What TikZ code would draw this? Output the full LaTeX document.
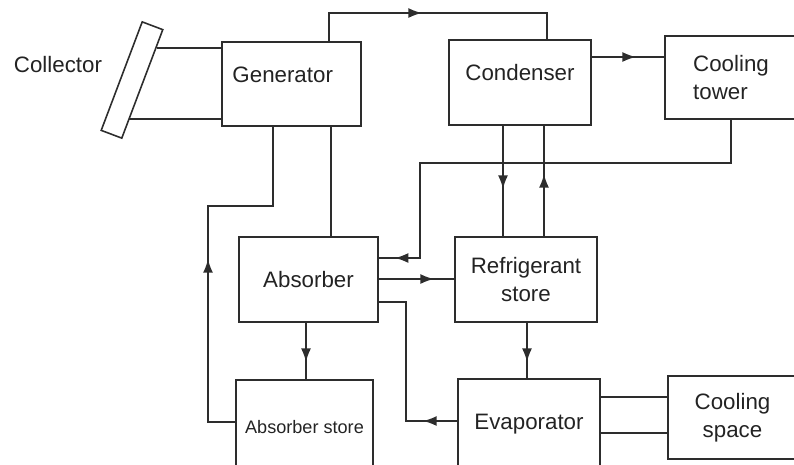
\documentclass[tikz,border=0pt]{standalone}
\usepackage{fontspec}
\setmainfont{Liberation Sans}
\usetikzlibrary{arrows.meta,decorations.markings}

\definecolor{linecolor}{RGB}{45,45,45}
\definecolor{textcolor}{RGB}{35,35,35}

\tikzset{
    unit/.style={draw=linecolor, line width=1pt, text=textcolor, inner sep=2pt,
        font=\fontsize{12.7}{16}\selectfont, align=center},
    pipe/.style={draw=linecolor, line width=0.85pt},
    flowat/.style={postaction={decorate},
        decoration={markings, mark=at position #1 with {\arrow{Latex[length=0.27cm,width=0.2cm]}}}},
}

\begin{document}
\begin{tikzpicture}[x=0.02cm, y=-0.02cm]
    % Canvas
    \useasboundingbox (0,0) rectangle (794,464);
    \clip (0,0) rectangle (794,464);

    % Solar side
    \node[font=\fontsize{12.7}{16}\selectfont, text=textcolor] (collabel) at (58,65) {Collector};
    \node[draw=linecolor, line width=0.9pt, minimum width=2.32cm, minimum height=0.44cm,
        rotate=69.3, inner sep=0pt] (panel) at (132,80) {};
    \coordinate (cin) at (157,48);
    \coordinate (cout) at (129,119);

    % Main units
    \node[unit, minimum width=2.78cm, minimum height=1.68cm, text depth=11pt] (gen) at (291.5,84) {Generator\hspace{10pt}};
    \node[unit, minimum width=2.84cm, minimum height=1.70cm, text depth=12pt] (cond) at (520,82.5) {Condenser};
    \node[unit, minimum width=2.64cm, minimum height=1.66cm, align=left] (tower) at (731,77.5) {Cooling\\tower};
    \node[unit, minimum width=2.78cm, minimum height=1.70cm] (abs) at (308.5,279.5) {Absorber};
    \node[unit, minimum width=2.84cm, minimum height=1.70cm] (ref) at (526,279.5) {Refrigerant\\store};
    \node[unit, minimum width=2.74cm, minimum height=1.90cm, font=\fontsize{10.3}{12}\selectfont] (absstore) at (304.5,427.5) {Absorber store};
    \node[unit, minimum width=2.84cm, minimum height=1.92cm, text depth=6pt] (evap) at (529,427) {Evaporator};
    \node[unit, minimum width=2.58cm, minimum height=1.66cm] (space) at (732.5,417.5) {Cooling\\space};

    % Collector loop
    \draw[pipe] (cin) -- (cin -| gen.west);
    \draw[pipe] (cout) -- (cout -| gen.west);

    % Vapour to condenser
    \draw[pipe, flowat=2.42cm] (gen.north -| 329,0) -- (329,13) -- (547,13) -- (cond.north -| 547,0);

    % Cooling water
    \draw[pipe, flowat=0.88cm] (cond.east |- 0,57) -- (tower.west |- 0,57);
    \draw[pipe, flowat=-0.32cm] (tower.south) -- (731,163) -- (420,163) -- (420,258) -- (abs.east |- 0,258);

    % Refrigerant between condenser and store
    \draw[pipe, flowat=1.26cm] (cond.south -| 503,0) -- (ref.north -| 503,0);
    \draw[pipe, flowat=1.24cm] (ref.north -| 544,0) -- (cond.south -| 544,0);

    % Solution circuit
    \draw[pipe, flowat=3.8cm] (absstore.west |- 0,422) -- (208,422) -- (208,206) -- (273,206) -- (gen.south -| 273,0);
    \draw[pipe] (gen.south -| 331,0) -- (abs.north -| 331,0);
    \draw[pipe, flowat=0.78cm] (abs.south -| 306,0) -- (absstore.north -| 306,0);

    % Absorber, store and evaporator
    \draw[pipe, flowat=1.1cm] (abs.east |- 0,279) -- (ref.west |- 0,279);
    \draw[pipe, flowat=0.78cm] (ref.south -| 527,0) -- (evap.north -| 527,0);
    \draw[pipe, flowat=0.68cm] (evap.west |- 0,421) -- (406,421) -- (406,302) -- (abs.east |- 0,302);

    % Chilled water loop
    \draw[pipe] (evap.east |- 0,397) -- (space.west |- 0,397);
    \draw[pipe] (evap.east |- 0,433) -- (space.west |- 0,433);
\end{tikzpicture}
\end{document}
